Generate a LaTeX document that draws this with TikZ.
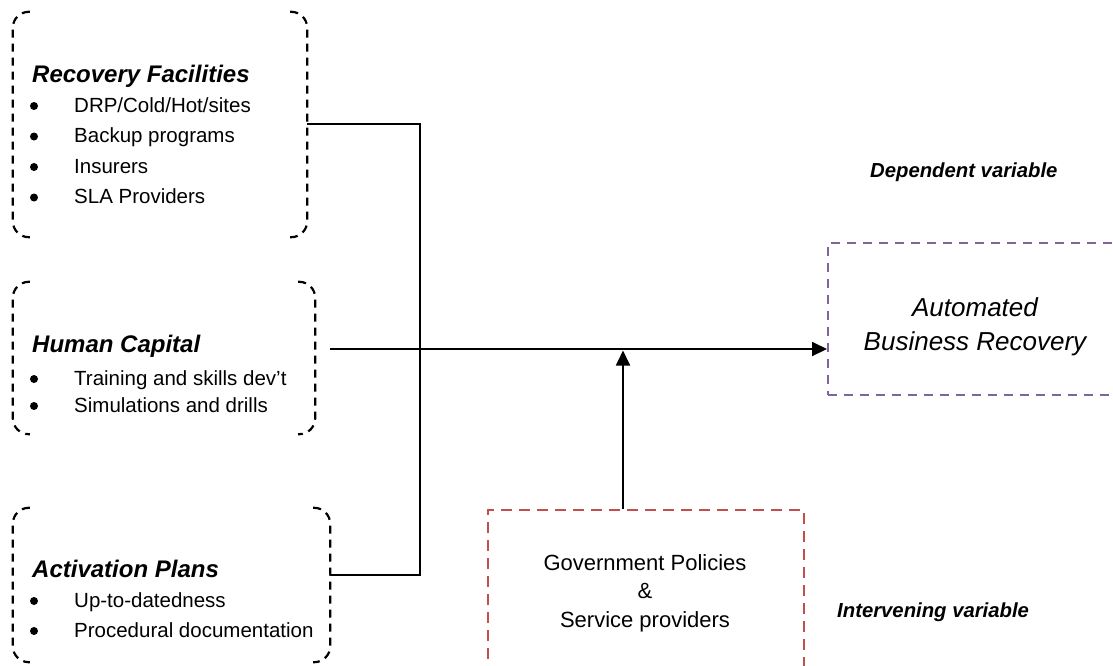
\documentclass[tikz,border=0pt]{standalone}
\usepackage{fontspec}
\setmainfont{Liberation Sans}
\usetikzlibrary{arrows.meta}
\definecolor{redd}{RGB}{192,80,77}
\definecolor{purp}{RGB}{128,100,162}
\tikzset{
 brk/.style={line width=2.2pt, dash pattern=on 8pt off 6pt, rounded corners=16pt},
 frame/.style={draw=none, rectangle, inner sep=0pt},
 conn/.style={line width=1.8pt},
 arr/.style={conn, -{Triangle[length=15pt,width=14pt]}},
 ttl/.style={anchor=base west, inner sep=0pt, font=\fontsize{24}{28}\selectfont\bfseries\itshape},
 itm/.style={anchor=base west, inner sep=0pt, font=\fontsize{20.5}{24}\selectfont},
 bul/.style={circle, fill=black, inner sep=0pt, minimum size=8pt},
 redbox/.style={draw=redd, line width=2.4pt, dash pattern=on 11pt off 7pt, rectangle, inner sep=0pt},
 purbox/.style={draw=purp, line width=2.4pt, dash pattern=on 9pt off 7pt, rectangle, inner sep=0pt},
 gtxt/.style={anchor=base, inner sep=0pt, font=\fontsize{22}{26}\selectfont},
 atxt/.style={anchor=base, inner sep=0pt, font=\fontsize{26}{30}\selectfont\itshape},
 vlab/.style={anchor=base west, inner sep=0pt, font=\fontsize{20.3}{24}\selectfont\bfseries\itshape},
}
\newcommand\drawbrackets[1]{%
 \draw[brk] ([xshift=17pt]#1.north west) -- (#1.north west) -- (#1.south west) -- ([xshift=17pt]#1.south west);
 \draw[brk] ([xshift=-17pt]#1.north east) -- (#1.north east) -- (#1.south east) -- ([xshift=-17pt]#1.south east);}
\begin{document}
\begin{tikzpicture}[x=1pt,y=-1pt]
\path[use as bounding box, clip] (0,0) rectangle (1113,665);
\fill[white] (0,0) rectangle (1113,665);

% left boxes
\node[frame, minimum width=294pt, minimum height=225pt] (b1) at (160,124.5) {};
\node[frame, minimum width=302pt, minimum height=152pt] (b2) at (164,358) {};
\node[frame, minimum width=317pt, minimum height=154pt] (b3) at (171.5,585) {};
\drawbrackets{b1}
\drawbrackets{b2}
\drawbrackets{b3}

% box 1 text
\node[ttl] (t1) at (32,82) {Recovery Facilities};
\node[bul] (p11) at (34,106) {};
\node[itm] (i11) at (74,112) {DRP/Cold/Hot/sites};
\node[bul] (p12) at (34,136.5) {};
\node[itm] (i12) at (74,142.5) {Backup programs};
\node[bul] (p13) at (34,167) {};
\node[itm] (i13) at (74,173) {Insurers};
\node[bul] (p14) at (34,197.5) {};
\node[itm] (i14) at (74,203.5) {SLA Providers};

% box 2 text
\node[ttl] (t2) at (32,352.5) {Human Capital};
\node[bul] (p21) at (34,379) {};
\node[itm] (i21) at (74,385) {Training and skills dev't};
\node[bul] (p22) at (34,406) {};
\node[itm] (i22) at (74,412) {Simulations and drills};

% box 3 text
\node[ttl] (t3) at (32,577) {Activation Plans};
\node[bul] (p31) at (34,601) {};
\node[itm] (i31) at (74,607) {Up-to-datedness};
\node[bul] (p32) at (34,631) {};
\node[itm] (i32) at (74,637) {Procedural documentation};

% government box
\node[redbox, minimum width=316pt, minimum height=220pt, anchor=north west] (gov) at (487,509) {};
\node[gtxt] (g1) at (645,570) {Government Policies};
\node[gtxt] (g2) at (645,598.5) {\&};
\node[gtxt] (g3) at (645,627) {Service providers};

% dependent box
\node[purbox, minimum width=330pt, minimum height=152pt, anchor=north west] (abr) at (827,242) {};
\node[atxt] (a1) at (975,316.5) {Automated};
\node[atxt] (a2) at (975,350) {Business Recovery};

% labels
\node[vlab] (dep) at (870,177) {Dependent variable};
\node[vlab] (int) at (837,617) {Intervening variable};

% connectors
\coordinate (bt) at (420,124);
\coordinate (bb) at (420,575);
\draw[conn] (b1.east |- bt) -- (bt) -- (bb) -- (b3.east |- bb);
\coordinate (hs) at (330,349);
\draw[arr] (hs) -- (abr.west |- hs);
\coordinate (jn) at (623,350.5);
\draw[arr] (gov.north -| jn) -- (jn);
\end{tikzpicture}
\end{document}
